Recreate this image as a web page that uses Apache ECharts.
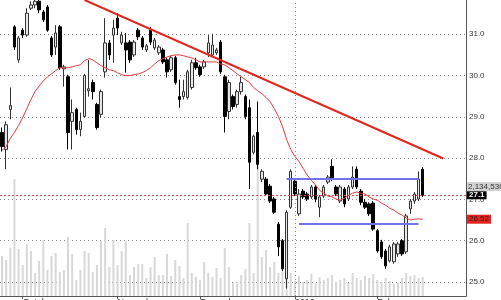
<!DOCTYPE html>
<html><head><meta charset="utf-8">
<script src="https://cdn.jsdelivr.net/npm/echarts@6/dist/echarts.min.js"></script>
<style>html,body{margin:0;padding:0;background:#fff}#c{width:501px;height:300px}</style>
</head><body><div id="c"></div>
<script>
// [open, close, low, high]
const ohlc = [
[28.62,28.28,28.16,28.74],[28.21,28.81,27.73,28.89],[29.18,29.27,28.94,29.71],[31.18,30.69,30.62,31.22],
[30.38,30.91,30.31,30.96],[31.10,30.98,30.91,31.15],[30.98,31.51,30.94,31.63],[31.63,31.71,31.59,31.80],
[31.71,31.80,31.63,31.90],[31.80,31.59,31.51,31.90],[31.54,31.35,31.30,31.59],[31.66,31.10,31.06,31.71],
[30.91,30.50,30.45,30.96],[30.69,31.03,30.50,31.22],[31.18,30.19,30.14,31.22],[30.16,30.21,29.73,30.26],
[29.97,28.62,28.21,30.02],[28.89,29.10,28.21,29.42],[29.18,28.69,28.57,29.22],[28.69,28.89,28.53,29.10],
[29.01,30.00,28.98,30.04],[29.63,29.68,29.49,30.38],[29.83,29.61,29.42,29.90],[29.30,28.74,28.69,29.34],
[29.06,29.61,28.98,29.66],[30.09,30.79,29.95,31.39],[30.79,30.50,30.38,30.86],[30.98,31.15,30.31,31.35],
[31.39,31.15,30.98,31.51],[30.79,30.98,30.74,31.06],[30.79,30.62,30.07,31.03],[30.81,30.38,30.31,30.86],
[30.50,30.81,30.45,30.86],[31.10,30.94,30.86,31.15],[30.91,30.69,30.62,30.96],[30.62,30.72,30.57,30.77],
[31.10,30.81,30.74,31.18],[30.67,30.86,30.62,30.91],[30.55,30.69,30.50,30.74],[30.62,30.33,30.28,30.67],
[30.38,30.09,29.95,30.43],[30.14,30.43,30.09,30.48],[30.43,29.83,29.78,30.48],[29.49,29.42,29.22,29.90],
[29.49,29.61,29.42,29.90],[29.47,30.09,29.42,30.14],[29.71,30.31,29.66,30.38],[30.31,30.19,30.14,30.43],
[30.21,30.02,29.97,30.26],[30.21,30.33,30.16,30.38],[30.55,30.79,30.45,30.98],[30.50,30.74,30.45,31.01],
[30.55,30.62,30.50,30.67],[30.81,30.09,30.04,30.86],[29.97,29.01,28.62,30.02],[29.13,29.83,28.94,29.90],
[29.49,29.25,29.18,29.54],[29.30,29.61,29.22,29.66],[29.61,29.83,29.54,29.97],[29.49,29.01,28.94,29.54],
[29.22,27.90,27.25,29.42],[28.14,28.53,28.09,28.57],[28.62,27.85,27.73,29.37],[27.49,27.68,27.42,27.73],
[27.49,27.13,27.08,27.54],[27.32,26.96,26.91,27.37],[27.01,26.69,26.65,27.06],[26.40,25.85,25.63,26.45],
[26.00,25.32,25.27,26.04],[25.08,26.69,24.84,26.74],[26.81,27.68,26.77,27.73],[27.44,27.13,27.08,27.49],
[26.65,27.13,26.60,27.25],[27.20,27.06,27.01,27.25],[27.13,27.01,26.96,27.18],[27.06,27.30,27.01,27.35],
[27.30,27.01,26.93,27.35],[26.81,27.06,26.57,27.10],[27.08,27.30,27.03,27.35],[27.42,27.54,27.37,27.59],
[27.80,27.49,27.44,27.97],[27.30,27.13,27.08,27.35],[26.96,27.30,26.91,27.35],[27.25,26.89,26.81,27.30],
[27.01,27.30,26.96,27.35],[27.30,27.54,27.25,27.80],[27.73,27.30,27.25,27.80],[27.20,26.93,26.86,27.25],
[26.93,26.81,26.77,27.01],[26.89,26.65,26.60,26.93],[26.91,26.28,26.24,26.96],[26.24,25.75,25.71,26.28],
[25.97,25.61,25.56,26.02],[25.75,25.39,25.32,25.80],[25.51,25.85,25.47,25.90],[25.49,25.92,25.44,25.97],
[25.68,25.92,25.61,25.97],[26.00,25.68,25.63,26.04],[25.73,26.60,25.68,26.65],[26.77,26.96,26.65,27.01],
[26.96,27.13,26.89,27.18],[27.01,27.49,26.96,27.68],[27.73,27.10,27.06,27.78]
];
// volume in thousands of shares
const volumeK = [
4480,4032,5376,13104,5264,3472,5824,5040,2576,3920,6272,2912,4480,4816,2688,2912,
6608,4704,1792,2912,5040,4816,2688,3472,6160,7616,3248,6272,3472,5040,6160,2352,
3248,3584,3584,2016,3248,4368,2352,2352,4704,2240,4032,3360,2016,8176,2576,2128,
1792,3808,2576,2128,3136,2016,5376,3248,1456,1568,2352,3024,8176,2576,14896,4368,
5152,3248,3808,2576,3000,4500,2576,1680,2240,1568,1792,2464,1344,2128,1792,2016,
2352,1568,1792,2016,1456,2576,2016,1792,2240,2016,2464,1792,1568,2016,1680,1344,
1456,2016,2576,2240,2352,2016,2134.53
];
// moving average values
const ma = [
28.19,28.28,28.48,28.62,28.79,28.98,29.20,29.42,29.61,29.75,29.87,29.97,30.04,30.12,30.19,30.19,
30.19,30.21,30.24,30.26,30.36,30.41,30.38,30.31,30.24,30.19,30.14,30.12,30.07,30.02,30.00,30.00,
30.02,30.04,30.07,30.12,30.19,30.28,30.36,30.41,30.45,30.48,30.50,30.50,30.48,30.45,30.43,30.38,
30.33,30.33,30.33,30.33,30.33,30.28,30.26,30.19,30.12,30.04,29.97,29.90,29.83,29.71,29.63,29.56,
29.47,29.37,29.20,29.01,28.77,28.45,28.21,28.04,27.92,27.75,27.59,27.46,27.35,27.22,27.15,27.08,
27.06,27.01,26.98,27.03,27.10,27.15,27.18,27.15,27.13,27.06,27.01,26.98,26.91,26.86,26.79,26.74,
26.67,26.62,26.55,26.50,26.52,26.53,26.52
];
const slotCount = 113;
const monthTickIndex = [5, 28, 48, 71, 91];
const monthTickLabels = ['October', 'November', 'December', '2010', 'February'];
const yearBreakIndex = 71;
const lastClose = 27.1;
const lastMA = 26.52;
const lastVolume = 2134530;
const trendLine = [[20, 31.83], [107, 27.99]];
const rangeTop = [69, 101, 27.51];
const rangeBottom = [72, 101, 26.41];
const priceMin = 24.66, priceMax = 31.83;

const cats = Array.from({length: slotCount}, (_, i) => 'd' + i);
const tickSet = new Set(monthTickIndex);
const FONT = 'Liberation Sans, Arial, sans-serif';

const chart = echarts.init(document.getElementById('c'), null, {renderer: 'canvas'});
chart.setOption({
  animation: false,
  backgroundColor: '#fff',
  grid: {left: 0, right: 35, top: 0, bottom: 4, containLabel: false, outerBoundsMode: 'none'},
  xAxis: {
    type: 'category', data: cats, boundaryGap: true,
    axisLine: {show: true, lineStyle: {color: '#555', width: 1}},
    axisTick: {show: true, alignWithLabel: true, length: 3, lineStyle: {color: '#555'},
      interval: (i) => tickSet.has(i)},
    axisLabel: {show: true, interval: (i) => tickSet.has(i), align: 'left', margin: 2,
      fontSize: 9, color: '#333', fontFamily: FONT, hideOverlap: false,
      formatter: (v, i) => monthTickLabels[monthTickIndex.indexOf(i)] || ''},
    splitLine: {show: false}
  },
  yAxis: [{
    type: 'value', position: 'right', min: priceMin, max: priceMax, splitNumber: 7,
    axisLine: {show: true, lineStyle: {color: '#555', width: 1}},
    axisTick: {show: false},
    axisLabel: {show: true, margin: 3, fontSize: 8, color: '#333', fontFamily: FONT,
      showMinLabel: false, showMaxLabel: false, formatter: (v) => v.toFixed(1)},
    splitLine: {show: true, showMinLine: false, showMaxLine: false,
      lineStyle: {color: '#8a8a8a', type: [1, 3], width: 1}}
  }, {
    type: 'value', min: 0, max: 33152, show: false, splitLine: {show: false}
  }],
  series: [{
    type: 'bar', name: 'Volume', yAxisIndex: 1, data: volumeK, barWidth: 2,
    itemStyle: {color: '#d8d8d8'}, silent: true, z: 1
  }, {
    type: 'candlestick', name: 'Price', data: ohlc, barWidth: 3, z: 3,
    itemStyle: {color: '#e6e6e6', color0: '#000', borderColor: '#333', borderColor0: '#000', borderWidth: 1},
    markLine: {
      silent: true, symbol: 'none', animation: false, label: {show: false},
      data: [
        {xAxis: cats[yearBreakIndex], lineStyle: {color: '#8a8a8a', type: [1, 3], width: 1}},
        [{coord: [cats[trendLine[0][0]], trendLine[0][1]], lineStyle: {color: '#e3261d', width: 2, type: 'solid'}},
         {coord: [cats[trendLine[1][0]], trendLine[1][1]]}],
        [{coord: [cats[rangeTop[0]], rangeTop[2]], lineStyle: {color: '#7272ee', width: 2, type: 'solid'}},
         {coord: [cats[rangeTop[1]], rangeTop[2]]}],
        [{coord: [cats[rangeBottom[0]], rangeBottom[2]], lineStyle: {color: '#7272ee', width: 2, type: 'solid'}},
         {coord: [cats[rangeBottom[1]], rangeBottom[2]]}],
        {yAxis: lastClose, lineStyle: {color: '#e04848', type: [2, 2], width: 1},
         label: {show: true, position: 'end', distance: 1, formatter: lastClose.toFixed(1),
           backgroundColor: '#000', color: '#fff', fontSize: 8, fontWeight: 'bold', fontFamily: FONT, padding: [0, 2, 0, 2]}}
      ]
    }
  }, {
    type: 'line', name: 'MA', data: ma, showSymbol: false, symbol: 'none', z: 4,
    lineStyle: {color: '#e33b3b', width: 1},
    markLine: {
      silent: true, symbol: 'none', animation: false,
      data: [{yAxis: lastMA, lineStyle: {color: 'rgba(0,0,0,0)', width: 1, type: 'solid'},
        label: {show: true, position: 'end', distance: 1, formatter: lastMA.toFixed(2),
          backgroundColor: '#e8231c', color: '#222', fontSize: 8, fontFamily: FONT, padding: [1, 2, 0, 2]}}]
    }
  }],
  graphic: [{
    type: 'text', left: 467, top: 182, z: 10,
    style: {text: lastVolume.toLocaleString('en-US'), fill: '#333', font: '8px ' + FONT,
      backgroundColor: '#d2d2d2', padding: [1, 4, 0, 1]}
  }]
});
</script>
</body></html>
